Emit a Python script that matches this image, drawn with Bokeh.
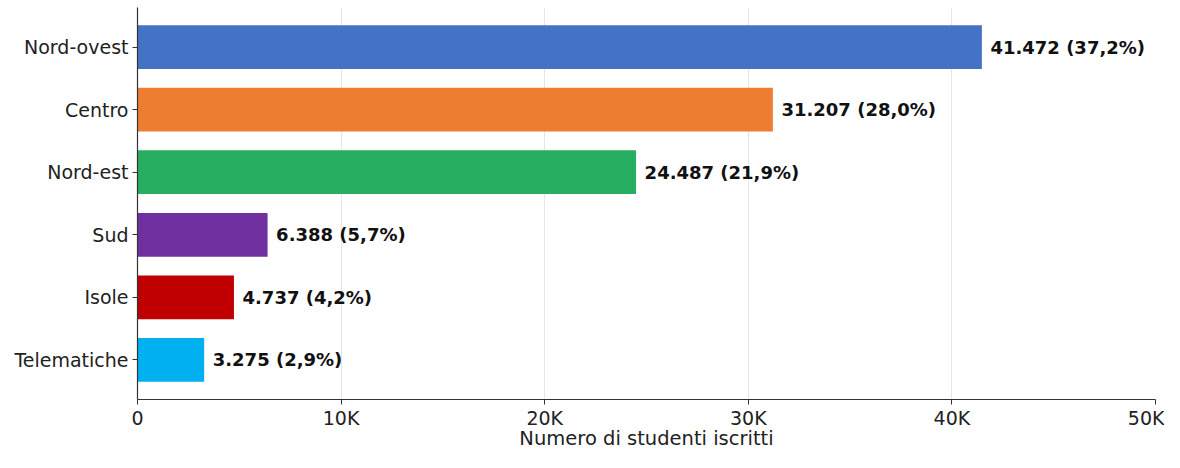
from bokeh.plotting import figure
from bokeh.models import Range1d, FixedTicker, ColumnDataSource
from bokeh.embed import file_html
from bokeh.resources import INLINE
from bokeh.core.properties import value

categories = ["Nord-ovest", "Centro", "Nord-est", "Sud", "Isole", "Telematiche"]
students = [41472, 31207, 24487, 6388, 4737, 3275]
percents = [37.2, 28.0, 21.9, 5.7, 4.2, 2.9]
colors = ["#4472C4", "#ED7D31", "#27AE60", "#7030A0", "#C00000", "#00B0F0"]
x_ticks = [0, 10000, 20000, 30000, 40000, 50000]
x_tick_labels = ["0", "10K", "20K", "30K", "40K", "50K"]

ys = list(range(len(categories)))
labels = [f"{v:,}".replace(",", ".") + " (" + f"{p:.1f}".replace(".", ",") + "%)"
          for v, p in zip(students, percents)]
src = ColumnDataSource(dict(y=ys, v=students, c=colors, lab=labels,
                            lx=[v + 420 for v in students]))

p = figure(width=1164, height=452, output_backend="svg", toolbar_location=None,
           x_range=Range1d(0, 50000), y_range=Range1d(5.635, -0.635),
           min_border_left=137, min_border_right=9, min_border_top=7, min_border_bottom=10)
p.outline_line_color = None
p.hbar(y="y", right="v", left=0, height=0.7, fill_color="c", line_color=None, source=src)
p.text(x="lx", y="y", text="lab", source=src, text_baseline="middle", text_align="left",
       text_font=value("DejaVu Sans"), text_font_style="bold", text_font_size="18px",
       text_color="#111111")

font = "DejaVu Sans"
p.xaxis.ticker = FixedTicker(ticks=x_ticks)
p.xaxis.major_label_overrides = {t: l for t, l in zip(x_ticks, x_tick_labels)}
p.yaxis.ticker = FixedTicker(ticks=ys)
p.yaxis.major_label_overrides = {y: c for y, c in zip(ys, categories)}
for ax in (p.xaxis, p.yaxis):
    ax.major_label_text_font = font
    ax.major_label_text_font_size = "19px"
    ax.major_label_text_color = "#222222"
    ax.axis_line_color = "#333333"
    ax.axis_line_width = 1.2
    ax.major_tick_line_color = "#333333"
    ax.major_tick_out = 5
    ax.major_tick_in = 0
    ax.minor_tick_line_color = None
p.xaxis.major_label_standoff = 2
p.yaxis.major_label_standoff = 4
p.xaxis.axis_label = "Numero di studenti iscritti"
p.xaxis.axis_label_text_font = font
p.xaxis.axis_label_text_font_size = "19.5px"
p.xaxis.axis_label_text_font_style = "normal"
p.xaxis.axis_label_text_color = "#222222"
p.xaxis.axis_label_standoff = -5
p.xgrid.grid_line_color = "#e6e6e6"
p.xgrid.grid_line_width = 1
p.ygrid.grid_line_color = None

open("out.html", "w").write(file_html(p, INLINE))
